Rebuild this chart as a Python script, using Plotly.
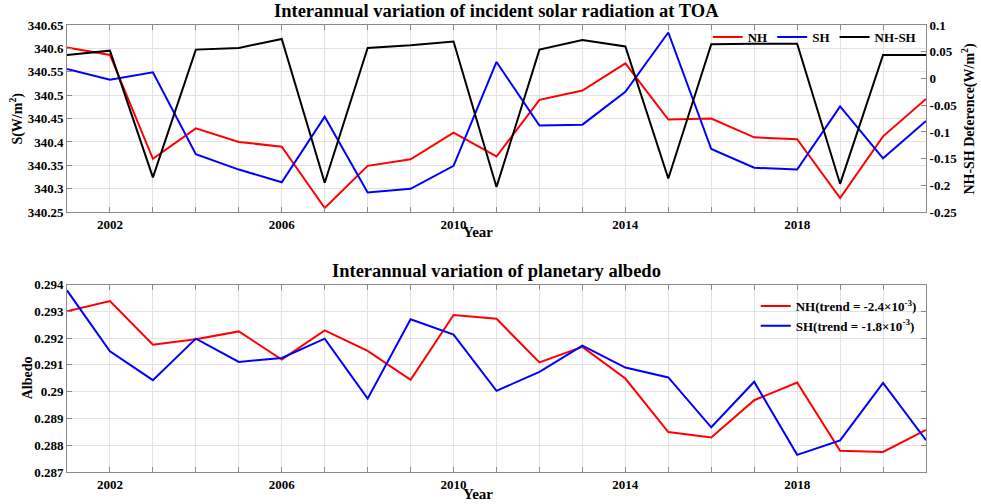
import plotly.graph_objects as go

years = list(range(2001, 2022))

nh_s = [340.602, 340.586, 340.364, 340.429, 340.400, 340.390, 340.259, 340.349, 340.363, 340.420,
        340.369, 340.490, 340.510, 340.568, 340.448, 340.450, 340.410, 340.406, 340.280, 340.412, 340.492]
sh_s = [340.556, 340.533, 340.549, 340.374, 340.341, 340.314, 340.454, 340.292, 340.300, 340.349,
        340.571, 340.435, 340.437, 340.507, 340.634, 340.385, 340.345, 340.341, 340.476, 340.365, 340.445]
diff_s = [0.044, 0.052, -0.185, 0.054, 0.057, 0.074, -0.195, 0.057, 0.062, 0.069,
          -0.203, 0.054, 0.072, 0.060, -0.187, 0.064, 0.065, 0.065, -0.197, 0.044, 0.044]

nh_alb = [0.29300, 0.29338, 0.29175, 0.29196, 0.29225, 0.29120, 0.29229, 0.29152, 0.29044, 0.29286,
          0.29272, 0.29109, 0.29167, 0.29049, 0.28849, 0.28829, 0.28968, 0.29034, 0.28779, 0.28775, 0.28857]
sh_alb = [0.29378, 0.29151, 0.29043, 0.29198, 0.29111, 0.29126, 0.29198, 0.28974, 0.29270, 0.29213,
          0.29003, 0.29074, 0.29172, 0.29090, 0.29053, 0.28867, 0.29037, 0.28764, 0.28818, 0.29033, 0.28819]

x_ticktext = [str(y) if y in (2002, 2006, 2010, 2014, 2018) else "" for y in years]
s_tickvals = [340.25, 340.3, 340.35, 340.4, 340.45, 340.5, 340.55, 340.6, 340.65]
s_ticktext = ["340.25", "340.3", "340.35", "340.4", "340.45", "340.5", "340.55", "340.6", "340.65"]
d_tickvals = [-0.25, -0.2, -0.15, -0.1, -0.05, 0, 0.05, 0.1]
d_ticktext = ["-0.25", "-0.2", "-0.15", "-0.1", "-0.05", "0", "0.05", "0.1"]
a_tickvals = [0.287, 0.288, 0.289, 0.290, 0.291, 0.292, 0.293, 0.294]
a_ticktext = ["0.287", "0.288", "0.289", "0.29", "0.291", "0.292", "0.293", "0.294"]

FONT = "Liberation Serif"
GRID = "#e3e3e3"
LINE = "#8a8a8a"
TICKFONT = dict(family=FONT, size=13, color="black", weight="bold")

fig = go.Figure()
fig.add_trace(go.Scatter(x=years, y=nh_s, name="NH", mode="lines",
                         line=dict(color="#ff0000", width=2), xaxis="x", yaxis="y", legend="legend"))
fig.add_trace(go.Scatter(x=years, y=sh_s, name="SH", mode="lines",
                         line=dict(color="#0000ff", width=2), xaxis="x", yaxis="y", legend="legend"))
fig.add_trace(go.Scatter(x=years, y=diff_s, name="NH-SH", mode="lines",
                         line=dict(color="#000000", width=2), xaxis="x", yaxis="y2", legend="legend"))
fig.add_trace(go.Scatter(x=years, y=nh_alb, name="NH(trend = -2.4×10<sup>-3</sup>)", mode="lines",
                         line=dict(color="#ff0000", width=2), xaxis="x2", yaxis="y3", legend="legend2"))
fig.add_trace(go.Scatter(x=years, y=sh_alb, name="SH(trend = -1.8×10<sup>-3</sup>)", mode="lines",
                         line=dict(color="#0000ff", width=2), xaxis="x2", yaxis="y3", legend="legend2"))

xcommon = dict(range=[2001, 2021], tickvals=years, ticktext=x_ticktext, showgrid=True, gridcolor=GRID,
               showline=True, linecolor=LINE, linewidth=1, mirror="ticks", ticks="inside",
               ticklen=5, tickcolor=LINE, zeroline=False, tickfont=TICKFONT)
ycommon = dict(showgrid=True, gridcolor=GRID, showline=True, linecolor=LINE, linewidth=1,
               ticks="inside", ticklen=5, tickcolor=LINE, zeroline=False, tickfont=TICKFONT)

top_dom = [0.5813, 1.0]
bot_dom = [0.0, 0.4194]

fig.update_layout(
    width=981, height=504,
    margin=dict(l=67, r=55, t=25, b=30),
    plot_bgcolor="white", paper_bgcolor="white",
    font=dict(family=FONT, color="black", size=13),
    xaxis=dict(xcommon, domain=[0, 1], anchor="y"),
    yaxis=dict(ycommon, domain=top_dom, range=[340.25, 340.65], tickvals=s_tickvals, ticktext=s_ticktext,
               mirror=False, anchor="x"),
    yaxis2=dict(ycommon, overlaying="y", side="right", range=[-0.25, 0.1], tickvals=d_tickvals,
                ticktext=d_ticktext, showgrid=False, anchor="x"),
    xaxis2=dict(xcommon, domain=[0, 1], anchor="y3"),
    yaxis3=dict(ycommon, domain=bot_dom, range=[0.287, 0.294], tickvals=a_tickvals, ticktext=a_ticktext,
                mirror="ticks", anchor="x2"),
    legend=dict(orientation="h", x=0.995, xanchor="right", y=0.973, yanchor="middle",
                bgcolor="rgba(255,255,255,0)", font=dict(family=FONT, size=13, color="black", weight="bold"),
                itemwidth=30, tracegroupgap=0),
    legend2=dict(orientation="v", x=0.995, xanchor="right", y=0.405, yanchor="top",
                 bgcolor="rgba(255,255,255,0)", font=dict(family=FONT, size=13, color="black", weight="bold"),
                 itemwidth=30, tracegroupgap=0),
    showlegend=True,
)

annots = [
    dict(text="<b>Interannual variation of incident solar radiation at TOA</b>", x=0.5, y=1.0,
         xref="paper", yref="paper", xanchor="center", yanchor="bottom", yshift=2, showarrow=False,
         font=dict(size=18.5)),
    dict(text="<b>Interannual variation of planetary albedo</b>", x=0.5, y=bot_dom[1],
         xref="paper", yref="paper", xanchor="center", yanchor="bottom", yshift=2, showarrow=False,
         font=dict(size=18.5)),
    dict(text="<b>Year</b>", x=0.478, y=top_dom[0], xref="paper", yref="paper", xanchor="center",
         yanchor="top", yshift=-10, showarrow=False, font=dict(size=15)),
    dict(text="<b>Year</b>", x=0.478, y=0, xref="paper", yref="paper", xanchor="center", yanchor="top",
         yshift=-12, showarrow=False, font=dict(size=15)),
    dict(text="<b>S(W/m<sup>2</sup>)</b>", x=0, y=(top_dom[0] + top_dom[1]) / 2, xref="paper", yref="paper",
         xanchor="center", yanchor="middle", xshift=-50, textangle=-90, showarrow=False, font=dict(size=14)),
    dict(text="<b>NH-SH Deference(W/m<sup>2</sup>)</b>", x=1, y=(top_dom[0] + top_dom[1]) / 2, xref="paper",
         yref="paper", xanchor="center", yanchor="middle", xshift=43, textangle=-90, showarrow=False,
         font=dict(size=14)),
    dict(text="<b>Albedo</b>", x=0, y=(bot_dom[0] + bot_dom[1]) / 2, xref="paper", yref="paper",
         xanchor="center", yanchor="middle", xshift=-40, textangle=-90, showarrow=False, font=dict(size=14)),
]
fig.update_layout(annotations=annots)

fig.write_html("out.html")
